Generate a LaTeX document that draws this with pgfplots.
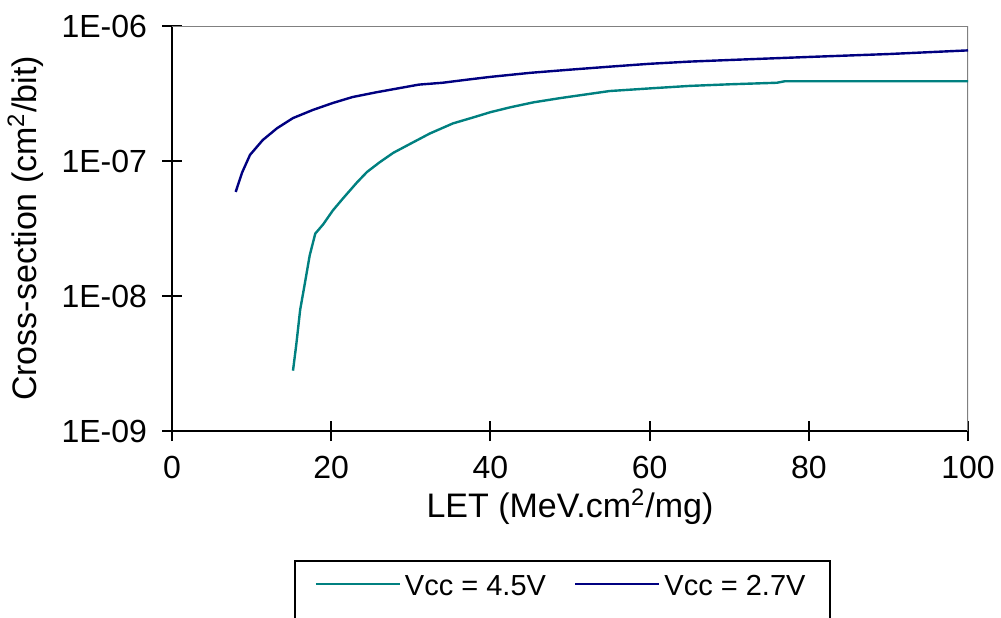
\documentclass[border=0pt]{standalone}
\usepackage{pgfplots}
\pgfplotsset{compat=1.18}
\usepackage{fontspec}
\setmainfont{Liberation Sans}
\definecolor{teal45}{RGB}{0,128,128}
\definecolor{navy27}{RGB}{0,0,128}
\begin{document}
\begin{tikzpicture}
\useasboundingbox (0,0) rectangle (500.5pt,308.5pt);
\begin{axis}[
  at={(86pt,93pt)}, anchor=south west,
  scale only axis, width=398pt, height=202.5pt,
  xmin=0, xmax=100, ymode=log, ymin=1e-9, ymax=1e-6,
  xtick={0,20,...,100},
  ytick={1e-9,1e-8,1e-7,1e-6},
  yticklabels={1E-09,1E-08,1E-07,1E-06},
  yminorticks=false,
  axis lines*=left, axis line style={-, line width=1.1pt, black},
  tick align=center, major tick length=10pt,
  tick style={black, line width=1pt},
  /pgf/number format/assume math mode=true,
  tick label style={font=\fontsize{16}{18}\selectfont},
  xticklabel style={yshift=-4pt},
  yticklabel style={xshift=-4pt},
  xlabel={LET (MeV.cm\textsuperscript{2}/mg)},
  ylabel={Cross-section (cm\textsuperscript{2}/bit)},
  label style={font=\fontsize{17}{19}\selectfont},
  xlabel style={yshift=2pt},
  ylabel style={yshift=2pt},
  legend columns=2,
  legend style={at={(0.49,-0.3185)}, anchor=north, draw=black, line width=1pt,
    font=\fontsize{14.5}{17}\selectfont, inner ysep=4pt, inner xsep=10pt,
    nodes={text depth=9pt, text height=11pt},
    /tikz/every even column/.append style={column sep=12pt}},
  legend image code/.code={\draw[#1, line width=1.2pt] (0pt,4.5pt) -- (42pt,4.5pt);},
]
\draw[gray, line width=0.8pt] (rel axis cs:0,1) -- (rel axis cs:1,1) -- (rel axis cs:1,0);
\addplot[teal45, line width=1.2pt] coordinates {
 (15.2,2.8e-9) (15.6,4.3e-9) (16.1,7.9e-9) (16.7,1.25e-8) (17.3,2.0e-8) (18,2.9e-8)
 (19,3.4e-8) (20.2,4.3e-8) (21.5,5.3e-8) (23.2,6.9e-8) (24.5,8.3e-8) (26.1,9.8e-8)
 (27.8,1.15e-7) (29.5,1.3e-7) (32.4,1.6e-7) (35.3,1.9e-7) (37.8,2.1e-7) (40,2.3e-7)
 (42.5,2.5e-7) (45.4,2.72e-7) (48.7,2.92e-7) (52.1,3.12e-7) (55,3.3e-7) (60,3.45e-7)
 (65,3.6e-7) (70,3.7e-7) (76,3.8e-7) (77,3.9e-7) (100,3.9e-7)};
\addlegendentry{Vcc = 4.5V}
\addplot[navy27, line width=1.2pt] coordinates {
 (8,5.9e-8) (8.8,8.2e-8) (9.8,1.11e-7) (11.4,1.43e-7) (13.2,1.75e-7) (15.2,2.08e-7)
 (17.7,2.39e-7) (20.2,2.69e-7) (22.7,2.98e-7) (25.8,3.24e-7) (28.6,3.47e-7) (31,3.68e-7)
 (34,3.8e-7) (37,4.0e-7) (40,4.2e-7) (45,4.5e-7) (50,4.75e-7) (55,5.0e-7) (60,5.25e-7)
 (65,5.45e-7) (70,5.6e-7) (80,5.9e-7) (90,6.2e-7) (100,6.6e-7)};
\addlegendentry{Vcc = 2.7V}
\end{axis}
\end{tikzpicture}
\end{document}
